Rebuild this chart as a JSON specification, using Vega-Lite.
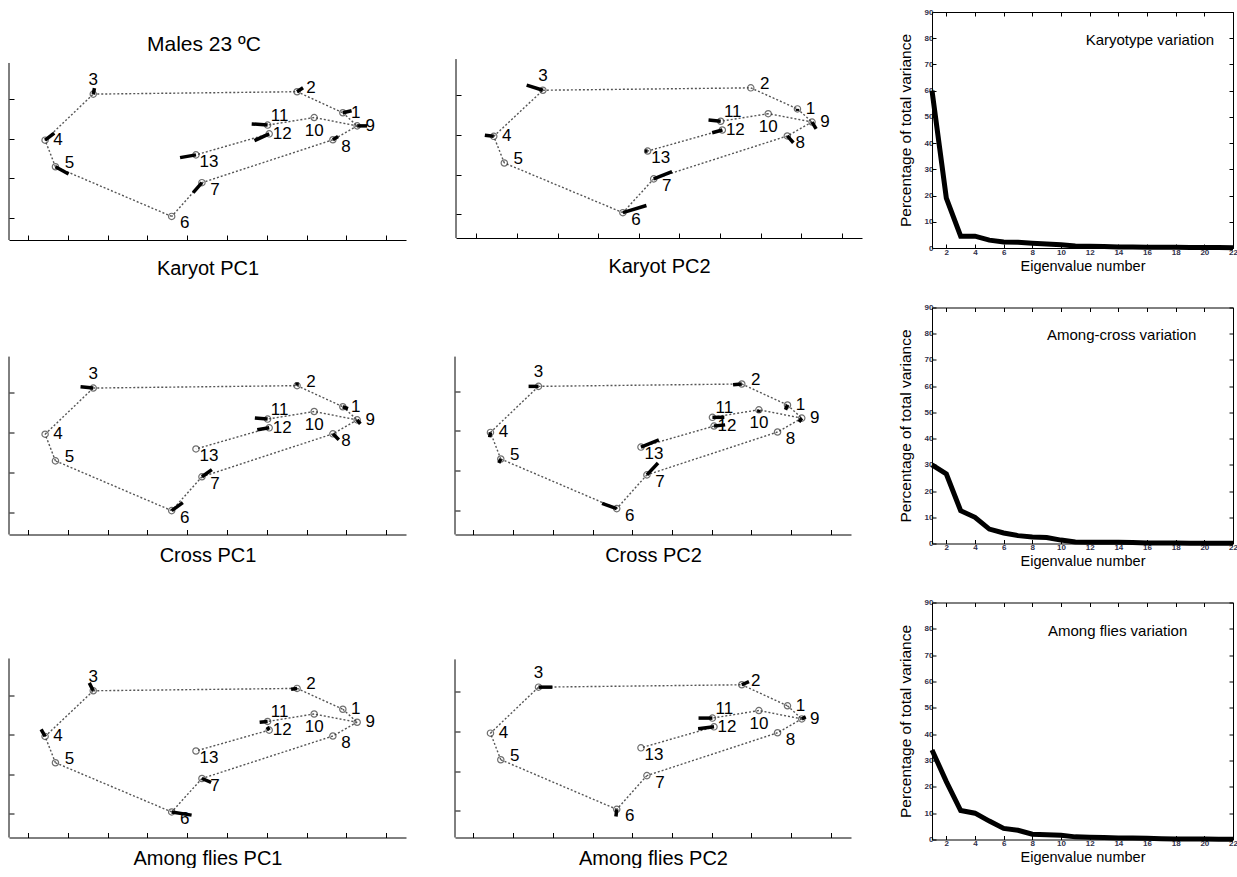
{
"$schema": "https://vega.github.io/schema/vega-lite/v6.json",
"padding": {"left": 8, "top": 8, "right": 0, "bottom": 0},
"background": "white",
"config": {"view": {"stroke": null}, "font": "Liberation Sans", "axis": {"grid": false}},
"datasets": {
"shape": [{"id":1,"x":7.91,"y":2.65},{"id":2,"x":6.76,"y":3.18},{"id":3,"x":1.64,"y":3.12},{"id":4,"x":0.43,"y":1.96},{"id":5,"x":0.69,"y":1.29},{"id":6,"x":3.61,"y":0.04},{"id":7,"x":4.37,"y":0.89},{"id":8,"x":7.66,"y":1.97},{"id":9,"x":8.27,"y":2.32},{"id":10,"x":7.19,"y":2.53},{"id":11,"x":6.02,"y":2.34},{"id":12,"x":6.06,"y":2.12},{"id":13,"x":4.22,"y":1.59}],
"edges": [{"a":3,"b":2,"x":1.64,"y":3.12,"x2":6.76,"y2":3.18},{"a":2,"b":1,"x":6.76,"y":3.18,"x2":7.91,"y2":2.65},{"a":1,"b":9,"x":7.91,"y":2.65,"x2":8.27,"y2":2.32},{"a":9,"b":10,"x":8.27,"y":2.32,"x2":7.19,"y2":2.53},{"a":10,"b":11,"x":7.19,"y":2.53,"x2":6.02,"y2":2.34},{"a":9,"b":8,"x":8.27,"y":2.32,"x2":7.66,"y2":1.97},{"a":8,"b":7,"x":7.66,"y":1.97,"x2":4.37,"y2":0.89},{"a":7,"b":6,"x":4.37,"y":0.89,"x2":3.61,"y2":0.04},{"a":6,"b":5,"x":3.61,"y":0.04,"x2":0.69,"y2":1.29},{"a":5,"b":4,"x":0.69,"y":1.29,"x2":0.43,"y2":1.96},{"a":4,"b":3,"x":0.43,"y":1.96,"x2":1.64,"y2":3.12},{"a":12,"b":13,"x":6.06,"y":2.12,"x2":4.22,"y2":1.59}],
"vec": [
{"p":"Karyot PC1","id":1,"ex":8.13,"ey":2.70},{"p":"Karyot PC1","id":2,"ex":6.91,"ey":3.28},{"p":"Karyot PC1","id":3,"ex":1.67,"ey":3.27},{"p":"Karyot PC1","id":4,"ex":0.66,"ey":2.14},{"p":"Karyot PC1","id":5,"ex":1.02,"ey":1.11},{"p":"Karyot PC1","id":7,"ex":4.15,"ey":0.64},{"p":"Karyot PC1","id":8,"ex":7.79,"ey":2.05},{"p":"Karyot PC1","id":9,"ex":8.52,"ey":2.32},{"p":"Karyot PC1","id":11,"ex":5.62,"ey":2.37},{"p":"Karyot PC1","id":12,"ex":5.69,"ey":1.95},{"p":"Karyot PC1","id":13,"ex":3.82,"ey":1.52},
{"p":"Karyot PC2","id":1,"ex":7.91,"ey":2.60},{"p":"Karyot PC2","id":3,"ex":1.24,"ey":3.25},{"p":"Karyot PC2","id":4,"ex":0.21,"ey":1.99},{"p":"Karyot PC2","id":6,"ex":4.19,"ey":0.22},{"p":"Karyot PC2","id":7,"ex":4.82,"ey":1.07},{"p":"Karyot PC2","id":8,"ex":7.81,"ey":1.80},{"p":"Karyot PC2","id":9,"ex":8.37,"ey":2.15},{"p":"Karyot PC2","id":11,"ex":5.72,"ey":2.37},{"p":"Karyot PC2","id":12,"ex":5.81,"ey":2.05},{"p":"Karyot PC2","id":13,"ex":4.15,"ey":1.59},
{"p":"Cross PC1","id":1,"ex":8.04,"ey":2.60},{"p":"Cross PC1","id":2,"ex":6.76,"ey":3.26},{"p":"Cross PC1","id":3,"ex":1.32,"ey":3.15},{"p":"Cross PC1","id":6,"ex":3.89,"ey":0.24},{"p":"Cross PC1","id":7,"ex":4.62,"ey":1.07},{"p":"Cross PC1","id":8,"ex":7.81,"ey":1.82},{"p":"Cross PC1","id":9,"ex":8.35,"ey":2.22},{"p":"Cross PC1","id":11,"ex":5.70,"ey":2.37},{"p":"Cross PC1","id":12,"ex":5.76,"ey":2.07},
{"p":"Cross PC2","id":1,"ex":7.86,"ey":2.53},{"p":"Cross PC2","id":2,"ex":6.54,"ey":3.16},{"p":"Cross PC2","id":3,"ex":1.39,"ey":3.12},{"p":"Cross PC2","id":4,"ex":0.41,"ey":1.84},{"p":"Cross PC2","id":5,"ex":0.64,"ey":1.19},{"p":"Cross PC2","id":6,"ex":3.24,"ey":0.17},{"p":"Cross PC2","id":7,"ex":4.65,"ey":1.19},{"p":"Cross PC2","id":9,"ex":8.20,"ey":2.22},{"p":"Cross PC2","id":10,"ex":7.19,"ey":2.46},{"p":"Cross PC2","id":11,"ex":6.32,"ey":2.34},{"p":"Cross PC2","id":12,"ex":6.34,"ey":2.15},{"p":"Cross PC2","id":13,"ex":4.67,"ey":1.77},
{"p":"Among flies PC1","id":2,"ex":6.61,"ey":3.16},{"p":"Among flies PC1","id":3,"ex":1.54,"ey":3.32},{"p":"Among flies PC1","id":4,"ex":0.33,"ey":2.14},{"p":"Among flies PC1","id":6,"ex":4.11,"ey":-0.04},{"p":"Among flies PC1","id":7,"ex":4.60,"ey":0.79},{"p":"Among flies PC1","id":11,"ex":5.82,"ey":2.32},{"p":"Among flies PC1","id":12,"ex":6.01,"ey":2.20},
{"p":"Among flies PC2","id":2,"ex":6.94,"ey":3.26},{"p":"Among flies PC2","id":3,"ex":1.99,"ey":3.12},{"p":"Among flies PC2","id":6,"ex":3.59,"ey":-0.14},{"p":"Among flies PC2","id":9,"ex":8.37,"ey":2.37},{"p":"Among flies PC2","id":11,"ex":5.67,"ey":2.34},{"p":"Among flies PC2","id":12,"ex":5.66,"ey":2.07}
],
"karyo": [{"n":1,"v":60},{"n":2,"v":19},{"n":3,"v":4.5},{"n":4,"v":4.5},{"n":5,"v":3.0},{"n":6,"v":2.3},{"n":7,"v":2.2},{"n":8,"v":1.8},{"n":9,"v":1.5},{"n":10,"v":1.2},{"n":11,"v":0.8},{"n":12,"v":0.7},{"n":13,"v":0.6},{"n":14,"v":0.4},{"n":15,"v":0.35},{"n":16,"v":0.3},{"n":17,"v":0.3},{"n":18,"v":0.25},{"n":19,"v":0.2},{"n":20,"v":0.2},{"n":21,"v":0.15},{"n":22,"v":0.1}],
"cross": [{"n":1,"v":30},{"n":2,"v":26.5},{"n":3,"v":12.5},{"n":4,"v":10},{"n":5,"v":5.5},{"n":6,"v":4},{"n":7,"v":3},{"n":8,"v":2.5},{"n":9,"v":2.3},{"n":10,"v":1.3},{"n":11,"v":0.6},{"n":12,"v":0.5},{"n":13,"v":0.5},{"n":14,"v":0.5},{"n":15,"v":0.4},{"n":16,"v":0.2},{"n":17,"v":0.15},{"n":18,"v":0.15},{"n":19,"v":0.1},{"n":20,"v":0.1},{"n":21,"v":0.1},{"n":22,"v":0.05}],
"flies": [{"n":1,"v":34},{"n":2,"v":22},{"n":3,"v":11},{"n":4,"v":10},{"n":5,"v":7},{"n":6,"v":4.2},{"n":7,"v":3.5},{"n":8,"v":2.0},{"n":9,"v":1.8},{"n":10,"v":1.6},{"n":11,"v":1.0},{"n":12,"v":0.9},{"n":13,"v":0.8},{"n":14,"v":0.6},{"n":15,"v":0.6},{"n":16,"v":0.5},{"n":17,"v":0.3},{"n":18,"v":0.2},{"n":19,"v":0.2},{"n":20,"v":0.15},{"n":21,"v":0.1},{"n":22,"v":0.1}]
},
"spacing": 24.5,
"vconcat": [
{"hconcat": [
 {"hconcat": [
  {"width": 397, "height": 228, "layer": [
   {"data": {"name": "edges"}, "mark": {"type": "rule", "strokeDash": [2, 2], "color": "#555555", "strokeWidth": 1.4},
    "encoding": {"x": {"field": "x", "type": "quantitative", "scale": {"domain": [-0.477, 9.497], "nice": false, "zero": false}, "axis": {"title": "Karyot PC1", "titleFontSize": 20, "titleFontWeight": "normal", "titleColor": "black", "titlePadding": 18, "labels": false, "values": [0,1,2,3,4,5,6,7,8,9], "tickSize": -5, "tickColor": "black", "domainColor": "black"}},
     "y": {"field": "y", "type": "quantitative", "scale": {"domain": [-0.554, 5.188], "nice": false, "zero": false}, "axis": {"domain": false, "labels": false, "values": [0,1,2,3], "tickSize": -5, "tickColor": "black", "title": null}},
     "x2": {"field": "x2"}, "y2": {"field": "y2"}}},
   {"data": {"values": [{}]}, "mark": {"type": "rule", "color": "black", "strokeWidth": 1}, "encoding": {"x": {"datum": -0.477}, "y": {"datum": -0.554}, "y2": {"datum": 3.904}}},
   {"data": {"values": [{}]}, "mark": {"type": "text", "fontSize": 21}, "encoding": {"x": {"datum": 4.42}, "y": {"datum": 4.36}, "text": {"value": "Males 23 ºC"}}},
   {"data": {"name": "shape"}, "mark": {"type": "point", "shape": "circle", "size": 40, "filled": false, "stroke": "#333333", "strokeWidth": 1.2}, "encoding": {"x": {"field": "x", "type": "quantitative"}, "y": {"field": "y", "type": "quantitative"}}},
   {"data": {"name": "vec"}, "transform": [{"filter": "datum.p == 'Karyot PC1'"}, {"lookup": "id", "from": {"data": {"name": "shape"}, "key": "id", "fields": ["x", "y"]}}], "mark": {"type": "rule", "color": "black", "strokeWidth": 3.5}, "encoding": {"x": {"field": "x", "type": "quantitative"}, "y": {"field": "y", "type": "quantitative"}, "x2": {"field": "ex"}, "y2": {"field": "ey"}}},
   {"data": {"name": "shape"}, "transform": [{"filter": {"field": "id", "oneOf": [1,4,9,12]}}], "mark": {"type": "text", "dx": 13, "dy": 0, "fontSize": 17}, "encoding": {"x": {"field": "x", "type": "quantitative"}, "y": {"field": "y", "type": "quantitative"}, "text": {"field": "id"}}},
   {"data": {"name": "shape"}, "transform": [{"filter": {"field": "id", "oneOf": [2,5]}}], "mark": {"type": "text", "dx": 14, "dy": -4, "fontSize": 17}, "encoding": {"x": {"field": "x", "type": "quantitative"}, "y": {"field": "y", "type": "quantitative"}, "text": {"field": "id"}}},
   {"data": {"name": "shape"}, "transform": [{"filter": {"field": "id", "oneOf": [3]}}], "mark": {"type": "text", "dx": 0, "dy": -14, "fontSize": 17}, "encoding": {"x": {"field": "x", "type": "quantitative"}, "y": {"field": "y", "type": "quantitative"}, "text": {"field": "id"}}},
   {"data": {"name": "shape"}, "transform": [{"filter": {"field": "id", "oneOf": [6,7,8,13]}}], "mark": {"type": "text", "dx": 13, "dy": 7, "fontSize": 17}, "encoding": {"x": {"field": "x", "type": "quantitative"}, "y": {"field": "y", "type": "quantitative"}, "text": {"field": "id"}}},
   {"data": {"name": "shape"}, "transform": [{"filter": {"field": "id", "oneOf": [10]}}], "mark": {"type": "text", "dx": 0, "dy": 13, "fontSize": 17}, "encoding": {"x": {"field": "x", "type": "quantitative"}, "y": {"field": "y", "type": "quantitative"}, "text": {"field": "id"}}},
   {"data": {"name": "shape"}, "transform": [{"filter": {"field": "id", "oneOf": [11]}}], "mark": {"type": "text", "dx": 12, "dy": -9, "fontSize": 17}, "encoding": {"x": {"field": "x", "type": "quantitative"}, "y": {"field": "y", "type": "quantitative"}, "text": {"field": "id"}}}
  ]},
  {"width": 406, "height": 226, "layer": [
   {"data": {"name": "edges"}, "mark": {"type": "rule", "strokeDash": [2, 2], "color": "#555555", "strokeWidth": 1.4},
    "encoding": {"x": {"field": "x", "type": "quantitative", "scale": {"domain": [-0.5, 9.5], "nice": false, "zero": false}, "axis": {"title": "Karyot PC2", "titleFontSize": 20, "titleFontWeight": "normal", "titleColor": "black", "titlePadding": 18, "labels": false, "values": [0,1,2,3,4,5,6,7,8,9], "tickSize": -5, "tickColor": "black", "domainColor": "black"}},
     "y": {"field": "y", "type": "quantitative", "scale": {"domain": [-0.597, 5.088], "nice": false, "zero": false}, "axis": {"domain": false, "labels": false, "values": [0,1,2,3], "tickSize": -5, "tickColor": "black", "title": null}},
     "x2": {"field": "x2"}, "y2": {"field": "y2"}}},
   {"data": {"values": [{}]}, "mark": {"type": "rule", "color": "black", "strokeWidth": 1}, "encoding": {"x": {"datum": -0.5}, "y": {"datum": -0.597}, "y2": {"datum": 3.904}}},
   {"data": {"name": "shape"}, "mark": {"type": "point", "shape": "circle", "size": 40, "filled": false, "stroke": "#333333", "strokeWidth": 1.2}, "encoding": {"x": {"field": "x", "type": "quantitative"}, "y": {"field": "y", "type": "quantitative"}}},
   {"data": {"name": "vec"}, "transform": [{"filter": "datum.p == 'Karyot PC2'"}, {"lookup": "id", "from": {"data": {"name": "shape"}, "key": "id", "fields": ["x", "y"]}}], "mark": {"type": "rule", "color": "black", "strokeWidth": 3.5}, "encoding": {"x": {"field": "x", "type": "quantitative"}, "y": {"field": "y", "type": "quantitative"}, "x2": {"field": "ex"}, "y2": {"field": "ey"}}},
   {"data": {"name": "shape"}, "transform": [{"filter": {"field": "id", "oneOf": [1,4,9,12]}}], "mark": {"type": "text", "dx": 13, "dy": 0, "fontSize": 17}, "encoding": {"x": {"field": "x", "type": "quantitative"}, "y": {"field": "y", "type": "quantitative"}, "text": {"field": "id"}}},
   {"data": {"name": "shape"}, "transform": [{"filter": {"field": "id", "oneOf": [2,5]}}], "mark": {"type": "text", "dx": 14, "dy": -4, "fontSize": 17}, "encoding": {"x": {"field": "x", "type": "quantitative"}, "y": {"field": "y", "type": "quantitative"}, "text": {"field": "id"}}},
   {"data": {"name": "shape"}, "transform": [{"filter": {"field": "id", "oneOf": [3]}}], "mark": {"type": "text", "dx": 0, "dy": -14, "fontSize": 17}, "encoding": {"x": {"field": "x", "type": "quantitative"}, "y": {"field": "y", "type": "quantitative"}, "text": {"field": "id"}}},
   {"data": {"name": "shape"}, "transform": [{"filter": {"field": "id", "oneOf": [6,7,8,13]}}], "mark": {"type": "text", "dx": 13, "dy": 7, "fontSize": 17}, "encoding": {"x": {"field": "x", "type": "quantitative"}, "y": {"field": "y", "type": "quantitative"}, "text": {"field": "id"}}},
   {"data": {"name": "shape"}, "transform": [{"filter": {"field": "id", "oneOf": [10]}}], "mark": {"type": "text", "dx": 0, "dy": 13, "fontSize": 17}, "encoding": {"x": {"field": "x", "type": "quantitative"}, "y": {"field": "y", "type": "quantitative"}, "text": {"field": "id"}}},
   {"data": {"name": "shape"}, "transform": [{"filter": {"field": "id", "oneOf": [11]}}], "mark": {"type": "text", "dx": 12, "dy": -9, "fontSize": 17}, "encoding": {"x": {"field": "x", "type": "quantitative"}, "y": {"field": "y", "type": "quantitative"}, "text": {"field": "id"}}}
  ]}
 ], "spacing": 49},
 {"width": 301, "height": 236, "data": {"name": "karyo"}, "layer": [
   {"mark": {"type": "line", "color": "black", "strokeWidth": 5},
    "encoding": {"x": {"field": "n", "type": "quantitative", "scale": {"domain": [1, 22], "nice": false, "zero": false}, "axis": {"values": [2,4,6,8,10,12,14,16,18,20,22], "tickSize": -4, "tickColor": "black", "domainColor": "black", "labelFlush": false, "labelFontSize": 8, "labelFontWeight": "bold", "labelColor": "#30304a", "labelPadding": 4, "title": "Eigenvalue number", "titleFontSize": 14.5, "titleFontWeight": "normal", "titleColor": "black", "titlePadding": 3}},
     "y": {"field": "v", "type": "quantitative", "scale": {"domain": [0, 90], "nice": false}, "axis": {"values": [0,10,20,30,40,50,60,70,80,90], "tickSize": -4, "tickColor": "black", "domainColor": "black", "labelFlush": false, "labelFontSize": 8, "labelFontWeight": "bold", "labelColor": "#30304a", "labelPadding": 3, "title": "Percentage of total variance", "titleFontSize": 15.5, "titleFontWeight": "normal", "titleColor": "black", "titlePadding": 11}}}},
   {"data": {"values": [{}]}, "mark": {"type": "text", "fontSize": 15},
    "encoding": {"x": {"datum": 16.2, "axis": {"orient": "top", "values": [2,4,6,8,10,12,14,16,18,20,22], "labels": false, "tickSize": -4, "tickColor": "black", "domainColor": "black", "title": null}},
     "y": {"datum": 79.3, "axis": {"orient": "right", "values": [0,10,20,30,40,50,60,70,80,90], "labels": false, "tickSize": -4, "tickColor": "black", "domainColor": "black", "title": null}},
     "text": {"value": "Karyotype variation"}}}
 ], "resolve": {"axis": {"x": "independent", "y": "independent"}}}
], "spacing": 36},
{"vconcat": [
{"hconcat": [
 {"hconcat": [
  {"width": 397, "height": 227, "layer": [
   {"data": {"name": "edges"}, "mark": {"type": "rule", "strokeDash": [2, 2], "color": "#555555", "strokeWidth": 1.4},
    "encoding": {"x": {"field": "x", "type": "quantitative", "scale": {"domain": [-0.477, 9.497], "nice": false, "zero": false}, "axis": {"title": "Cross PC1", "titleFontSize": 20, "titleFontWeight": "normal", "titleColor": "black", "titlePadding": 10, "labels": false, "values": [0,1,2,3,4,5,6,7,8,9], "tickSize": -5, "tickColor": "black", "domainColor": "black"}},
     "y": {"field": "y", "type": "quantitative", "scale": {"domain": [-0.56, 5.144], "nice": false, "zero": false}, "axis": {"domain": false, "labels": false, "values": [0,1,2,3], "tickSize": -5, "tickColor": "black", "title": null}},
     "x2": {"field": "x2"}, "y2": {"field": "y2"}}},
   {"data": {"values": [{}]}, "mark": {"type": "rule", "color": "black", "strokeWidth": 1}, "encoding": {"x": {"datum": -0.477}, "y": {"datum": -0.56}, "y2": {"datum": 3.91}}},
   {"data": {"name": "shape"}, "mark": {"type": "point", "shape": "circle", "size": 40, "filled": false, "stroke": "#333333", "strokeWidth": 1.2}, "encoding": {"x": {"field": "x", "type": "quantitative"}, "y": {"field": "y", "type": "quantitative"}}},
   {"data": {"name": "vec"}, "transform": [{"filter": "datum.p == 'Cross PC1'"}, {"lookup": "id", "from": {"data": {"name": "shape"}, "key": "id", "fields": ["x", "y"]}}], "mark": {"type": "rule", "color": "black", "strokeWidth": 3.5}, "encoding": {"x": {"field": "x", "type": "quantitative"}, "y": {"field": "y", "type": "quantitative"}, "x2": {"field": "ex"}, "y2": {"field": "ey"}}},
   {"data": {"name": "shape"}, "transform": [{"filter": {"field": "id", "oneOf": [1,4,9,12]}}], "mark": {"type": "text", "dx": 13, "dy": 0, "fontSize": 17}, "encoding": {"x": {"field": "x", "type": "quantitative"}, "y": {"field": "y", "type": "quantitative"}, "text": {"field": "id"}}},
   {"data": {"name": "shape"}, "transform": [{"filter": {"field": "id", "oneOf": [2,5]}}], "mark": {"type": "text", "dx": 14, "dy": -4, "fontSize": 17}, "encoding": {"x": {"field": "x", "type": "quantitative"}, "y": {"field": "y", "type": "quantitative"}, "text": {"field": "id"}}},
   {"data": {"name": "shape"}, "transform": [{"filter": {"field": "id", "oneOf": [3]}}], "mark": {"type": "text", "dx": 0, "dy": -14, "fontSize": 17}, "encoding": {"x": {"field": "x", "type": "quantitative"}, "y": {"field": "y", "type": "quantitative"}, "text": {"field": "id"}}},
   {"data": {"name": "shape"}, "transform": [{"filter": {"field": "id", "oneOf": [6,7,8,13]}}], "mark": {"type": "text", "dx": 13, "dy": 7, "fontSize": 17}, "encoding": {"x": {"field": "x", "type": "quantitative"}, "y": {"field": "y", "type": "quantitative"}, "text": {"field": "id"}}},
   {"data": {"name": "shape"}, "transform": [{"filter": {"field": "id", "oneOf": [10]}}], "mark": {"type": "text", "dx": 0, "dy": 13, "fontSize": 17}, "encoding": {"x": {"field": "x", "type": "quantitative"}, "y": {"field": "y", "type": "quantitative"}, "text": {"field": "id"}}},
   {"data": {"name": "shape"}, "transform": [{"filter": {"field": "id", "oneOf": [11]}}], "mark": {"type": "text", "dx": 12, "dy": -9, "fontSize": 17}, "encoding": {"x": {"field": "x", "type": "quantitative"}, "y": {"field": "y", "type": "quantitative"}, "text": {"field": "id"}}}
  ]},
  {"width": 396, "height": 227, "layer": [
   {"data": {"name": "edges"}, "mark": {"type": "rule", "strokeDash": [2, 2], "color": "#555555", "strokeWidth": 1.4},
    "encoding": {"x": {"field": "x", "type": "quantitative", "scale": {"domain": [-0.463, 9.51], "nice": false, "zero": false}, "axis": {"title": "Cross PC2", "titleFontSize": 20, "titleFontWeight": "normal", "titleColor": "black", "titlePadding": 10, "labels": false, "values": [0,1,2,3,4,5,6,7,8,9], "tickSize": -5, "tickColor": "black", "domainColor": "black"}},
     "y": {"field": "y", "type": "quantitative", "scale": {"domain": [-0.612, 5.107], "nice": false, "zero": false}, "axis": {"domain": false, "labels": false, "values": [0,1,2,3], "tickSize": -5, "tickColor": "black", "title": null}},
     "x2": {"field": "x2"}, "y2": {"field": "y2"}}},
   {"data": {"values": [{}]}, "mark": {"type": "rule", "color": "black", "strokeWidth": 1}, "encoding": {"x": {"datum": -0.463}, "y": {"datum": -0.612}, "y2": {"datum": 3.87}}},
   {"data": {"name": "shape"}, "mark": {"type": "point", "shape": "circle", "size": 40, "filled": false, "stroke": "#333333", "strokeWidth": 1.2}, "encoding": {"x": {"field": "x", "type": "quantitative"}, "y": {"field": "y", "type": "quantitative"}}},
   {"data": {"name": "vec"}, "transform": [{"filter": "datum.p == 'Cross PC2'"}, {"lookup": "id", "from": {"data": {"name": "shape"}, "key": "id", "fields": ["x", "y"]}}], "mark": {"type": "rule", "color": "black", "strokeWidth": 3.5}, "encoding": {"x": {"field": "x", "type": "quantitative"}, "y": {"field": "y", "type": "quantitative"}, "x2": {"field": "ex"}, "y2": {"field": "ey"}}},
   {"data": {"name": "shape"}, "transform": [{"filter": {"field": "id", "oneOf": [1,4,9,12]}}], "mark": {"type": "text", "dx": 13, "dy": 0, "fontSize": 17}, "encoding": {"x": {"field": "x", "type": "quantitative"}, "y": {"field": "y", "type": "quantitative"}, "text": {"field": "id"}}},
   {"data": {"name": "shape"}, "transform": [{"filter": {"field": "id", "oneOf": [2,5]}}], "mark": {"type": "text", "dx": 14, "dy": -4, "fontSize": 17}, "encoding": {"x": {"field": "x", "type": "quantitative"}, "y": {"field": "y", "type": "quantitative"}, "text": {"field": "id"}}},
   {"data": {"name": "shape"}, "transform": [{"filter": {"field": "id", "oneOf": [3]}}], "mark": {"type": "text", "dx": 0, "dy": -14, "fontSize": 17}, "encoding": {"x": {"field": "x", "type": "quantitative"}, "y": {"field": "y", "type": "quantitative"}, "text": {"field": "id"}}},
   {"data": {"name": "shape"}, "transform": [{"filter": {"field": "id", "oneOf": [6,7,8,13]}}], "mark": {"type": "text", "dx": 13, "dy": 7, "fontSize": 17}, "encoding": {"x": {"field": "x", "type": "quantitative"}, "y": {"field": "y", "type": "quantitative"}, "text": {"field": "id"}}},
   {"data": {"name": "shape"}, "transform": [{"filter": {"field": "id", "oneOf": [10]}}], "mark": {"type": "text", "dx": 0, "dy": 13, "fontSize": 17}, "encoding": {"x": {"field": "x", "type": "quantitative"}, "y": {"field": "y", "type": "quantitative"}, "text": {"field": "id"}}},
   {"data": {"name": "shape"}, "transform": [{"filter": {"field": "id", "oneOf": [11]}}], "mark": {"type": "text", "dx": 12, "dy": -9, "fontSize": 17}, "encoding": {"x": {"field": "x", "type": "quantitative"}, "y": {"field": "y", "type": "quantitative"}, "text": {"field": "id"}}}
  ]}
 ], "spacing": 48},
 {"width": 301, "height": 236, "data": {"name": "cross"}, "layer": [
   {"mark": {"type": "line", "color": "black", "strokeWidth": 5},
    "encoding": {"x": {"field": "n", "type": "quantitative", "scale": {"domain": [1, 22], "nice": false, "zero": false}, "axis": {"values": [2,4,6,8,10,12,14,16,18,20,22], "tickSize": -4, "tickColor": "black", "domainColor": "black", "labelFlush": false, "labelFontSize": 8, "labelFontWeight": "bold", "labelColor": "#30304a", "labelPadding": 4, "title": "Eigenvalue number", "titleFontSize": 14.5, "titleFontWeight": "normal", "titleColor": "black", "titlePadding": 3}},
     "y": {"field": "v", "type": "quantitative", "scale": {"domain": [0, 90], "nice": false}, "axis": {"values": [0,10,20,30,40,50,60,70,80,90], "tickSize": -4, "tickColor": "black", "domainColor": "black", "labelFlush": false, "labelFontSize": 8, "labelFontWeight": "bold", "labelColor": "#30304a", "labelPadding": 3, "title": "Percentage of total variance", "titleFontSize": 15.5, "titleFontWeight": "normal", "titleColor": "black", "titlePadding": 11}}}},
   {"data": {"values": [{}]}, "mark": {"type": "text", "fontSize": 15},
    "encoding": {"x": {"datum": 14.23, "axis": {"orient": "top", "values": [2,4,6,8,10,12,14,16,18,20,22], "labels": false, "tickSize": -4, "tickColor": "black", "domainColor": "black", "title": null}},
     "y": {"datum": 79.6, "axis": {"orient": "right", "values": [0,10,20,30,40,50,60,70,80,90], "labels": false, "tickSize": -4, "tickColor": "black", "domainColor": "black", "title": null}},
     "text": {"value": "Among-cross variation"}}}
 ], "resolve": {"axis": {"x": "independent", "y": "independent"}}}
], "spacing": 47},
{"hconcat": [
 {"hconcat": [
  {"width": 397, "height": 235, "layer": [
   {"data": {"name": "edges"}, "mark": {"type": "rule", "strokeDash": [2, 2], "color": "#555555", "strokeWidth": 1.4},
    "encoding": {"x": {"field": "x", "type": "quantitative", "scale": {"domain": [-0.477, 9.497], "nice": false, "zero": false}, "axis": {"title": "Among flies PC1", "titleFontSize": 20, "titleFontWeight": "normal", "titleColor": "black", "titlePadding": 10, "labels": false, "values": [0,1,2,3,4,5,6,7,8,9], "tickSize": -5, "tickColor": "black", "domainColor": "black"}},
     "y": {"field": "y", "type": "quantitative", "scale": {"domain": [-0.609, 5.363], "nice": false, "zero": false}, "axis": {"domain": false, "labels": false, "values": [0,1,2,3], "tickSize": -5, "tickColor": "black", "title": null}},
     "x2": {"field": "x2"}, "y2": {"field": "y2"}}},
   {"data": {"values": [{}]}, "mark": {"type": "rule", "color": "black", "strokeWidth": 1}, "encoding": {"x": {"datum": -0.477}, "y": {"datum": -0.609}, "y2": {"datum": 3.94}}},
   {"data": {"name": "shape"}, "mark": {"type": "point", "shape": "circle", "size": 40, "filled": false, "stroke": "#333333", "strokeWidth": 1.2}, "encoding": {"x": {"field": "x", "type": "quantitative"}, "y": {"field": "y", "type": "quantitative"}}},
   {"data": {"name": "vec"}, "transform": [{"filter": "datum.p == 'Among flies PC1'"}, {"lookup": "id", "from": {"data": {"name": "shape"}, "key": "id", "fields": ["x", "y"]}}], "mark": {"type": "rule", "color": "black", "strokeWidth": 3.5}, "encoding": {"x": {"field": "x", "type": "quantitative"}, "y": {"field": "y", "type": "quantitative"}, "x2": {"field": "ex"}, "y2": {"field": "ey"}}},
   {"data": {"name": "shape"}, "transform": [{"filter": {"field": "id", "oneOf": [1,4,9,12]}}], "mark": {"type": "text", "dx": 13, "dy": 0, "fontSize": 17}, "encoding": {"x": {"field": "x", "type": "quantitative"}, "y": {"field": "y", "type": "quantitative"}, "text": {"field": "id"}}},
   {"data": {"name": "shape"}, "transform": [{"filter": {"field": "id", "oneOf": [2,5]}}], "mark": {"type": "text", "dx": 14, "dy": -4, "fontSize": 17}, "encoding": {"x": {"field": "x", "type": "quantitative"}, "y": {"field": "y", "type": "quantitative"}, "text": {"field": "id"}}},
   {"data": {"name": "shape"}, "transform": [{"filter": {"field": "id", "oneOf": [3]}}], "mark": {"type": "text", "dx": 0, "dy": -14, "fontSize": 17}, "encoding": {"x": {"field": "x", "type": "quantitative"}, "y": {"field": "y", "type": "quantitative"}, "text": {"field": "id"}}},
   {"data": {"name": "shape"}, "transform": [{"filter": {"field": "id", "oneOf": [6,7,8,13]}}], "mark": {"type": "text", "dx": 13, "dy": 7, "fontSize": 17}, "encoding": {"x": {"field": "x", "type": "quantitative"}, "y": {"field": "y", "type": "quantitative"}, "text": {"field": "id"}}},
   {"data": {"name": "shape"}, "transform": [{"filter": {"field": "id", "oneOf": [10]}}], "mark": {"type": "text", "dx": 0, "dy": 13, "fontSize": 17}, "encoding": {"x": {"field": "x", "type": "quantitative"}, "y": {"field": "y", "type": "quantitative"}, "text": {"field": "id"}}},
   {"data": {"name": "shape"}, "transform": [{"filter": {"field": "id", "oneOf": [11]}}], "mark": {"type": "text", "dx": 12, "dy": -9, "fontSize": 17}, "encoding": {"x": {"field": "x", "type": "quantitative"}, "y": {"field": "y", "type": "quantitative"}, "text": {"field": "id"}}}
  ]},
  {"width": 396, "height": 235, "layer": [
   {"data": {"name": "edges"}, "mark": {"type": "rule", "strokeDash": [2, 2], "color": "#555555", "strokeWidth": 1.4},
    "encoding": {"x": {"field": "x", "type": "quantitative", "scale": {"domain": [-0.463, 9.51], "nice": false, "zero": false}, "axis": {"title": "Among flies PC2", "titleFontSize": 20, "titleFontWeight": "normal", "titleColor": "black", "titlePadding": 10, "labels": false, "values": [0,1,2,3,4,5,6,7,8,9], "tickSize": -5, "tickColor": "black", "domainColor": "black"}},
     "y": {"field": "y", "type": "quantitative", "scale": {"domain": [-0.67, 5.254], "nice": false, "zero": false}, "axis": {"domain": false, "labels": false, "values": [0,1,2,3], "tickSize": -5, "tickColor": "black", "title": null}},
     "x2": {"field": "x2"}, "y2": {"field": "y2"}}},
   {"data": {"values": [{}]}, "mark": {"type": "rule", "color": "black", "strokeWidth": 1}, "encoding": {"x": {"datum": -0.463}, "y": {"datum": -0.67}, "y2": {"datum": 3.82}}},
   {"data": {"name": "shape"}, "mark": {"type": "point", "shape": "circle", "size": 40, "filled": false, "stroke": "#333333", "strokeWidth": 1.2}, "encoding": {"x": {"field": "x", "type": "quantitative"}, "y": {"field": "y", "type": "quantitative"}}},
   {"data": {"name": "vec"}, "transform": [{"filter": "datum.p == 'Among flies PC2'"}, {"lookup": "id", "from": {"data": {"name": "shape"}, "key": "id", "fields": ["x", "y"]}}], "mark": {"type": "rule", "color": "black", "strokeWidth": 3.5}, "encoding": {"x": {"field": "x", "type": "quantitative"}, "y": {"field": "y", "type": "quantitative"}, "x2": {"field": "ex"}, "y2": {"field": "ey"}}},
   {"data": {"name": "shape"}, "transform": [{"filter": {"field": "id", "oneOf": [1,4,9,12]}}], "mark": {"type": "text", "dx": 13, "dy": 0, "fontSize": 17}, "encoding": {"x": {"field": "x", "type": "quantitative"}, "y": {"field": "y", "type": "quantitative"}, "text": {"field": "id"}}},
   {"data": {"name": "shape"}, "transform": [{"filter": {"field": "id", "oneOf": [2,5]}}], "mark": {"type": "text", "dx": 14, "dy": -4, "fontSize": 17}, "encoding": {"x": {"field": "x", "type": "quantitative"}, "y": {"field": "y", "type": "quantitative"}, "text": {"field": "id"}}},
   {"data": {"name": "shape"}, "transform": [{"filter": {"field": "id", "oneOf": [3]}}], "mark": {"type": "text", "dx": 0, "dy": -14, "fontSize": 17}, "encoding": {"x": {"field": "x", "type": "quantitative"}, "y": {"field": "y", "type": "quantitative"}, "text": {"field": "id"}}},
   {"data": {"name": "shape"}, "transform": [{"filter": {"field": "id", "oneOf": [6,7,8,13]}}], "mark": {"type": "text", "dx": 13, "dy": 7, "fontSize": 17}, "encoding": {"x": {"field": "x", "type": "quantitative"}, "y": {"field": "y", "type": "quantitative"}, "text": {"field": "id"}}},
   {"data": {"name": "shape"}, "transform": [{"filter": {"field": "id", "oneOf": [10]}}], "mark": {"type": "text", "dx": 0, "dy": 13, "fontSize": 17}, "encoding": {"x": {"field": "x", "type": "quantitative"}, "y": {"field": "y", "type": "quantitative"}, "text": {"field": "id"}}},
   {"data": {"name": "shape"}, "transform": [{"filter": {"field": "id", "oneOf": [11]}}], "mark": {"type": "text", "dx": 12, "dy": -9, "fontSize": 17}, "encoding": {"x": {"field": "x", "type": "quantitative"}, "y": {"field": "y", "type": "quantitative"}, "text": {"field": "id"}}}
  ]}
 ], "spacing": 48},
 {"width": 301, "height": 237, "data": {"name": "flies"}, "layer": [
   {"mark": {"type": "line", "color": "black", "strokeWidth": 5},
    "encoding": {"x": {"field": "n", "type": "quantitative", "scale": {"domain": [1, 22], "nice": false, "zero": false}, "axis": {"values": [2,4,6,8,10,12,14,16,18,20,22], "tickSize": -4, "tickColor": "black", "domainColor": "black", "labelFlush": false, "labelFontSize": 8, "labelFontWeight": "bold", "labelColor": "#30304a", "labelPadding": 4, "title": "Eigenvalue number", "titleFontSize": 14.5, "titleFontWeight": "normal", "titleColor": "black", "titlePadding": 3}},
     "y": {"field": "v", "type": "quantitative", "scale": {"domain": [0, 90], "nice": false}, "axis": {"values": [0,10,20,30,40,50,60,70,80,90], "tickSize": -4, "tickColor": "black", "domainColor": "black", "labelFlush": false, "labelFontSize": 8, "labelFontWeight": "bold", "labelColor": "#30304a", "labelPadding": 3, "title": "Percentage of total variance", "titleFontSize": 15.5, "titleFontWeight": "normal", "titleColor": "black", "titlePadding": 11}}}},
   {"data": {"values": [{}]}, "mark": {"type": "text", "fontSize": 15},
    "encoding": {"x": {"datum": 13.95, "axis": {"orient": "top", "values": [2,4,6,8,10,12,14,16,18,20,22], "labels": false, "tickSize": -4, "tickColor": "black", "domainColor": "black", "title": null}},
     "y": {"datum": 79.0, "axis": {"orient": "right", "values": [0,10,20,30,40,50,60,70,80,90], "labels": false, "tickSize": -4, "tickColor": "black", "domainColor": "black", "title": null}},
     "text": {"value": "Among flies variation"}}}
 ], "resolve": {"axis": {"x": "independent", "y": "independent"}}}
], "spacing": 47}
], "spacing": 30}
]
}
